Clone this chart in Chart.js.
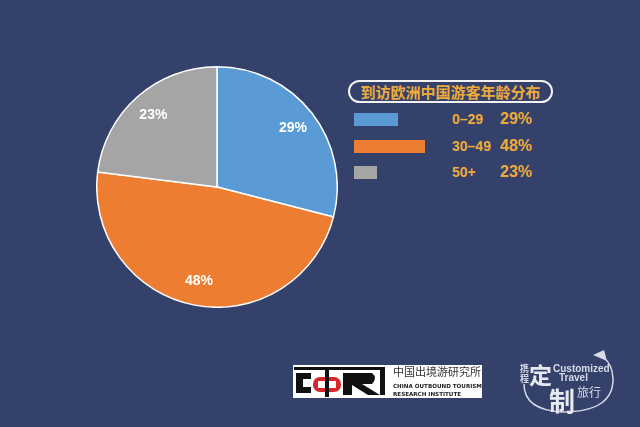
<!DOCTYPE html>
<html>
<head>
<meta charset="utf-8">
<script src="https://cdn.jsdelivr.net/npm/chart.js@4.4.0/dist/chart.umd.min.js"></script>
<style>
  html, body { margin: 0; padding: 0; }
  body { width: 640px; height: 427px; background: #34416b; position: relative; overflow: hidden; font-family: "Liberation Sans", Arial, sans-serif; }
  #pieBox { position: absolute; left: 96px; top: 66px; width: 242px; height: 242px; }
  .titulo { position: absolute; left: 348px; top: 80px; width: 201px; height: 19px; border: 2px solid #f2f2f2; border-radius: 12px;
            color: #eeab3c; font: bold 15px "Noto Sans CJK SC", sans-serif; text-align: center; line-height: 19px; }
  .fila { position: absolute; left: 354px; height: 14px; }
  .barra { position: absolute; left: 0; top: 0; height: 13px; }
  .txt { position: absolute; color: #eeab3c; font: bold 14px "Liberation Sans", sans-serif; top: -2px; white-space: nowrap; }
  .pct { font-size: 16px; top: -3px; }
  svg { position: absolute; left: 0; top: 0; }
</style>
</head>
<body>
<div id="pieBox"><canvas id="pie"></canvas></div>
<div class="titulo">到访欧洲中国游客年龄分布</div>
<div id="leyenda"></div>

<svg width="640" height="427">
  <!-- logo CTRI -->
  <rect x="293" y="365" width="189" height="33" fill="#ffffff"/>
  <rect x="294" y="367" width="89" height="3" fill="#111"/>
  <path d="M296 373 H311 V379 H303 V387 H311 V393 H296 Z" fill="#111"/>
  <rect x="313" y="377" width="28" height="15" rx="7" fill="#d8262b"/>
  <rect x="318" y="381" width="18" height="7" fill="#fff"/>
  <rect x="325" y="370" width="4" height="27" fill="#111"/>
  <path d="M343 373 H372 Q378 378 372 384 H362 L380 395 H368 L352 385 V395 H343 Z" fill="#111"/>
  <rect x="380" y="367" width="5" height="28" fill="#111"/>
  <text x="393" y="376" font-family="Noto Sans CJK SC" font-size="11" fill="#333">中国出境游研究所</text>
  <text x="393" y="388" font-family="DejaVu Sans" font-weight="bold" font-size="5.6" fill="#222">CHINA OUTBOUND TOURISM</text>
  <text x="393" y="396" font-family="DejaVu Sans" font-weight="bold" font-size="5.6" fill="#222">RESEARCH INSTITUTE</text>
  <!-- logo Ctrip -->
  <path d="M524 384 Q524 410 562 412 Q614 412 613 378 Q612 364 604 358" fill="none" stroke="#d6dbe6" stroke-width="1.5"/>
  <path d="M593 355 L607 361 L604 350 Z" fill="#d6dbe6"/>
  <text x="520" y="372" font-family="Noto Sans CJK SC" font-weight="bold" font-size="9" fill="#d6dbe6">携</text>
  <text x="520" y="382" font-family="Noto Sans CJK SC" font-weight="bold" font-size="9" fill="#d6dbe6">程</text>
  <text x="529" y="384" font-family="Noto Sans CJK SC" font-weight="bold" font-size="23" fill="#e6e9f0">定</text>
  <text x="549" y="411" font-family="Noto Sans CJK SC" font-weight="bold" font-size="26" fill="#e6e9f0">制</text>
  <text x="553" y="372" font-family="Liberation Sans" font-weight="bold" font-size="10" fill="#d6dbe6">Customized</text>
  <text x="559" y="381" font-family="Liberation Sans" font-weight="bold" font-size="10" fill="#d6dbe6">Travel</text>
  <text x="577" y="397" font-family="Noto Sans CJK SC" font-size="12" fill="#d6dbe6">旅行</text>
</svg>

<script>
// datos del grafico
const grupos = ['0-29', '30-49', '50+'];
const porcentajes = [29, 48, 23];
const colores = ['#5b9bd5', '#ed7d31', '#a5a5a5'];

// ancho de las barras de la leyenda (solo estilo)
const anchoBarras = [44, 71, 23];
const filasY = [113, 140, 166];

// leyenda a la derecha
const leyenda = document.getElementById('leyenda');
grupos.forEach((g, i) => {
    leyenda.innerHTML += `
        <div class="fila" style="top:${filasY[i]}px">
            <div class="barra" style="width:${anchoBarras[i]}px;background:${colores[i]}"></div>
            <div class="txt" style="left:98px">${g.replace('-', '–')}</div>
            <div class="txt pct" style="left:146px">${porcentajes[i]}%</div>
        </div>`;
});

// etiquetas dentro de cada porcion
const etiquetas = {
    id: 'etiquetas',
    afterDatasetsDraw(chart) {
        const c = chart.ctx;
        const meta = chart.getDatasetMeta(0);
        c.save();
        c.fillStyle = '#ffffff';
        c.font = 'bold 14px "Liberation Sans"';
        c.textAlign = 'center';
        c.textBaseline = 'middle';
        meta.data.forEach((arc, i) => {
            const mid = (arc.startAngle + arc.endAngle) / 2;
            const r = arc.outerRadius * 0.8;
            c.fillText(porcentajes[i] + '%', arc.x + Math.cos(mid) * r, arc.y + Math.sin(mid) * r);
        });
        c.restore();
    }
};

const pie = new Chart(document.getElementById('pie'), {
    type: 'pie',
    data: {
        labels: grupos,
        datasets: [{
            data: porcentajes,
            backgroundColor: colores,
            borderColor: '#ffffff',
            borderWidth: 1.5
        }]
    },
    options: {
        responsive: true,
        maintainAspectRatio: false,
        animation: false,
        layout: { padding: 0 },
        plugins: {
            legend: { display: false },
            tooltip: { enabled: false }
        }
    },
    plugins: [etiquetas]
});
</script>
</body>
</html>
